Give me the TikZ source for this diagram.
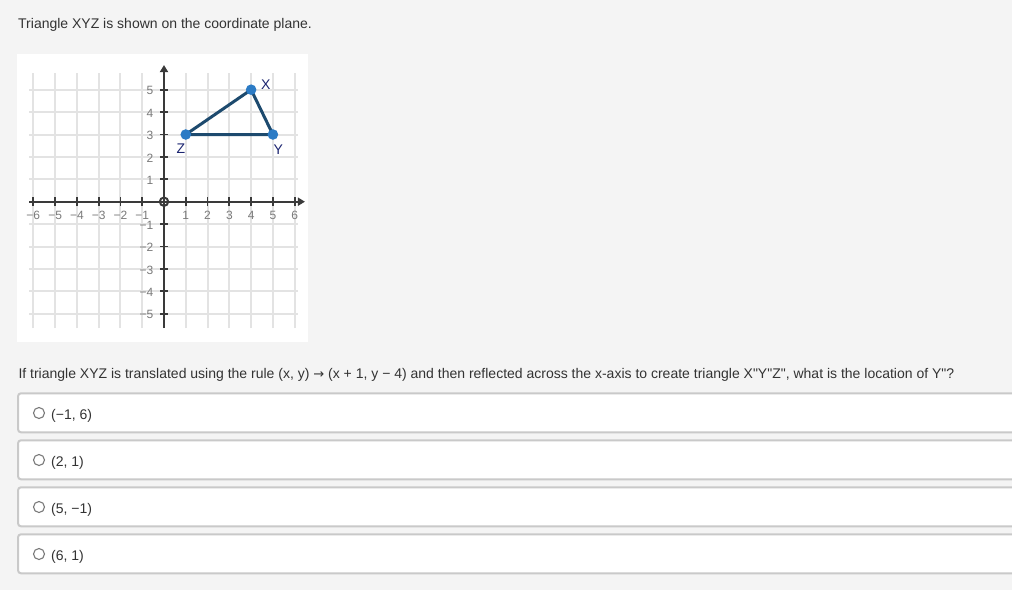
\documentclass[tikz,border=0pt]{standalone}
\usepackage{fontspec}
\setmainfont{Liberation Sans}[Ligatures=TeXOff]
\newfontfamily\arrowfont{DejaVu Sans}
\usetikzlibrary{arrows.meta}
\definecolor{bg}{HTML}{F4F4F4}
\definecolor{gridc}{HTML}{E3E3E3}
\definecolor{axisc}{HTML}{3A3A3A}
\definecolor{numc}{HTML}{7A7A7A}
\definecolor{tric}{HTML}{1D4A6E}
\definecolor{ptc}{HTML}{2B7BC5}
\definecolor{labc}{HTML}{1B2470}
\definecolor{txt}{HTML}{333333}
\definecolor{boxc}{HTML}{C9C9C9}
\definecolor{radc}{HTML}{7A7A7A}
\tikzset{
  bodytext/.style={font=\fontsize{14}{16}\selectfont, text=txt, inner sep=0pt, anchor=base west},
  ansbox/.style={draw=boxc, line width=2pt, fill=white, rounded corners=3pt},
  radio/.style={circle, draw=radc, line width=1.1pt, minimum size=11pt, inner sep=0pt, fill=white},
  gridline/.style={draw=gridc, line width=2pt},
  axisline/.style={draw=axisc, line width=2.2pt},
  tick/.style={draw=axisc, line width=1.8pt},
  numlab/.style={font=\fontsize{12}{14}\selectfont, text=numc, inner sep=0pt},
  ptlab/.style={font=\fontsize{14}{16}\selectfont, text=labc, inner sep=0pt},
  pt/.style={circle, fill=ptc, minimum size=10.6pt, inner sep=0pt},
  triedge/.style={draw=tric, line width=3pt, line join=round}
}
\begin{document}
\begin{tikzpicture}[x=1pt,y=-1pt]
\useasboundingbox (0,0) rectangle (1012,590);
\clip (0,0) rectangle (1012,590);
\fill[bg] (0,0) rectangle (1012,590);

\node[bodytext] (title) at (18,28.7) {Triangle XYZ is shown on the coordinate plane.};

% graph panel
\fill[white] (17,54) rectangle (308,341.5);

\begin{scope}[shift={(164,201.7)}, x=21.78pt, y=22.4pt]
  % grid
  \foreach \i in {-6,...,-1,1,2,...,6}
    \draw[gridline] (\i,-5.64) -- (\i,5.76);
  \foreach \j in {-5,...,-1,1,2,...,5}
    \draw[gridline] (-6.18,\j) -- (6.14,\j);
  % axes
  \draw[axisline, -{Triangle[length=7pt,width=8pt]}] (-6.18,0) -- (6.47,0);
  \draw[axisline, -{Triangle[length=7pt,width=8pt]}] (0,-5.64) -- (0,6.1);
  % ticks
  \foreach \i in {-6,...,-1,1,2,...,6}
    \draw[tick] (\i,0) ++(0pt,-4.5pt) -- ++(0pt,9pt);
  \foreach \j in {-5,...,-1,1,2,...,5}
    \draw[tick] (0,\j) ++(-4pt,0pt) -- ++(8pt,0pt);
  % origin circle
  \draw[axisc, line width=2pt] (0,0) circle[radius=4.2pt];
  % x labels
  \foreach \i in {-6,...,-1}
    \node[numlab] (xl\i) at (\i,-0.6) {−\the\numexpr-\i\relax};
  \foreach \i in {1,...,6}
    \node[numlab] (xl\i) at (\i,-0.6) {\i};
  % y labels
  \foreach \j in {1,...,5}
    \node[numlab, anchor=east] (yl\j) at ([xshift=-10.5pt,yshift=-1pt]0,\j) {\j};
  \foreach \j in {-5,...,-1}
    \node[numlab, anchor=east] (yl\j) at ([xshift=-10.5pt,yshift=-1pt]0,\j) {−\the\numexpr-\j\relax};
  % triangle
  \coordinate (X) at (4,5);
  \coordinate (Y) at (5,3);
  \coordinate (Z) at (1,3);
  \draw[triedge] (X) -- (Y) -- (Z) -- cycle;
  \node[pt] (Xp) at (X) {};
  \node[pt] (Yp) at (Y) {};
  \node[pt] (Zp) at (Z) {};
\end{scope}
\node[ptlab] (Xl) at (265.7,84.3) {X};
\node[ptlab] (Yl) at (278.3,149.5) {Y};
\node[ptlab] (Zl) at (181,148.5) {Z};

% question
\node[bodytext] (q) at (18.3,378.3) {If triangle XYZ is translated using the rule (x, y) {\arrowfont\fontsize{13}{16}\selectfont →} (x + 1, y − 4) and then reflected across the x-axis to create triangle X"Y"Z", what is the location of Y"?};

% answers
\foreach \k/\t in {0/{(−1, 6)},1/{(2, 1)},2/{(5, −1)},3/{(6, 1)}} {
  \draw[ansbox] (18,393.3+47*\k) rectangle (1030,432.3+47*\k);
  \node[radio] (r\k) at (39,413+47*\k) {};
  \node[bodytext] (a\k) at (51,419+47*\k) {\t};
}
\end{tikzpicture}
\end{document}
